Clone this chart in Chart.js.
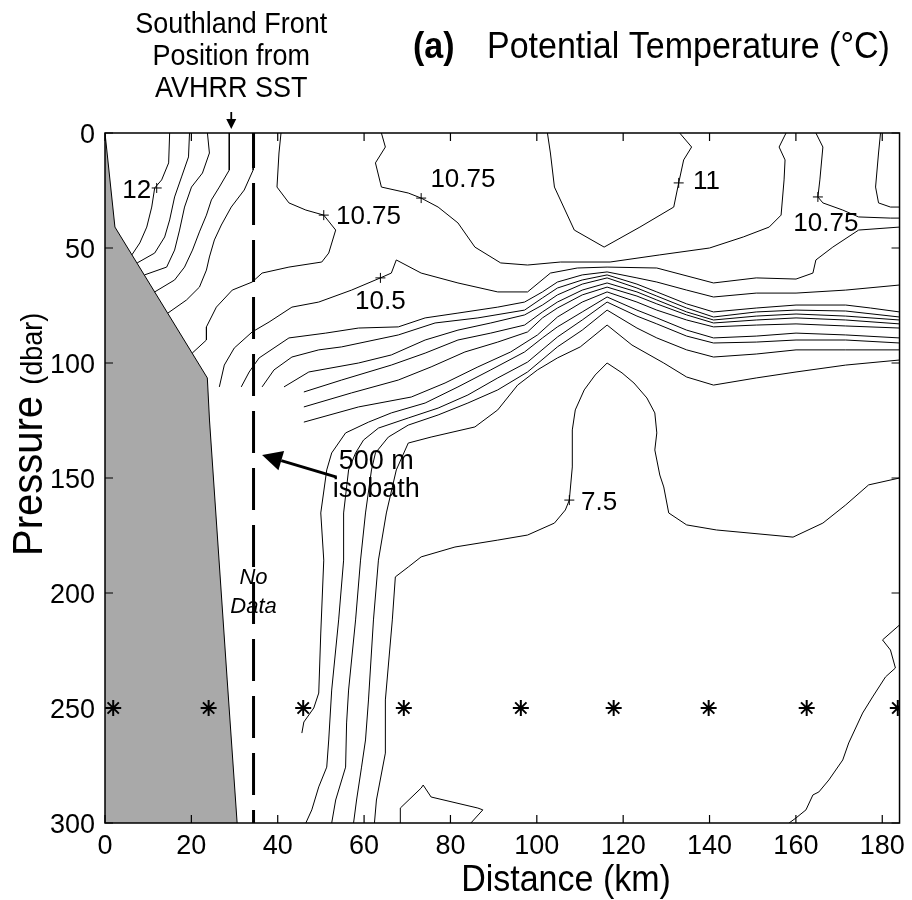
<!DOCTYPE html>
<html>
<head>
<meta charset="utf-8">
<script src="https://cdn.jsdelivr.net/npm/chart.js@4.4.1/dist/chart.umd.min.js"></script>
<style>
  html, body { margin: 0; padding: 0; background: #fff; }
</style>
</head>
<body>
<canvas id="c" width="912" height="900"></canvas>
<script>
// axes
const xTicks = [0, 20, 40, 60, 80, 100, 120, 140, 160, 180];
const yTicks = [0, 50, 100, 150, 200, 250, 300];
const xMax = 184, yMax = 300;

// shelf (land) outline, km / dbar
const land = [[0,0],[2.3,40.9],[23.7,106.5],[24.2,124.8],[28.3,237.8],[30.6,300]];
// 500 m isobath, no data line
const isobath = [[34.4,0],[34.4,300]];

// contour lines [km, dbar]
const c12 = [[14.97,0],[14.74,13.0],[13.12,20.4],[11.51,23.9],[10.82,32.2],[9.67,40.9],[8.06,47.8],[6.22,53.0]];
const f2 = [[19.57,0],[19.34,10.4],[17.73,19.1],[16.12,27.8],[14.97,37.8],[13.82,45.2],[11.51,52.2],[7.45,56.5]];
const f3 = [[23.72,0],[24.18,8.7],[22.57,17.4],[20.03,23.5],[18.42,32.2],[17.27,42.2],[16.12,50.9],[14.28,58.3],[9.15,61.7]];
const f4 = [[28.78,0],[28.78,16.1],[26.48,23.5],[24.64,29.1],[23.49,35.7],[21.87,43.0],[20.26,50.9],[18.42,58.3],[16.12,63.9],[11.5,69.1]];
const f5 = [[34.31,0],[34.31,16.1],[32.24,24.8],[29.24,32.2],[26.94,40.0],[25.33,46.5],[24.18,53.9],[23.49,59.6],[21.87,67.0],[18.88,72.6],[14.56,78.3]];
const c1075a = [[40.76,0],[40.29,8.7],[39.83,23.5],[42.6,30.4],[46.51,33.5],[50.66,35.7],[53.42,42.2],[51.81,52.2],[50.2,56.1],[42.6,58.3],[36.38,60.9],[34.08,64.8],[29.47,68.3],[25.79,75.7],[23.49,84.3],[23.49,90.0],[20.2,95.7]];
const c1075b = [[64.01,0],[64.93,6.1],[62.63,13.0],[64.01,23.5],[70.23,26.1],[73.22,28.3],[77.14,32.2],[81.74,39.1],[85.66,49.6],[91.64,56.5],[97.86,57.4],[105.46,56.1],[116.97,56.1],[128.48,53.0],[140.0,50.0],[147.82,45.2],[153.81,40.9],[156.57,35.7],[157.26,20.4],[157.49,11.7],[156.11,6.1],[157.72,0]];
const c11a = [[102.46,0],[103.15,8.7],[104.08,23.5],[108.68,42.2],[115.59,49.6],[123.88,40.9],[131.71,32.2],[132.86,21.7],[134.01,11.7],[135.85,6.1],[133.09,0]];
const c1075c = [[164.63,0],[166.25,6.1],[165.55,20.4],[165.09,27.8],[166.25,30.4],[170.85,33.5],[174.53,36.5],[181.9,37.0],[184,37.0]];
const c11b = [[179.6,0],[179.14,8.7],[178.45,23.5],[179.14,30.4],[181.9,32.2],[184,32.2]];
const c105 = [[26.48,110.4],[27.63,100.9],[29.93,93.5],[34.08,86.5],[37.99,82.2],[43.29,75.7],[49.5,73.5],[57.1,68.3],[63.78,63.0],[66.31,60.9],[67.46,55.2],[73.22,60.9],[81.74,65.2],[90.95,69.1],[97.86,69.1],[103.15,60.9],[109.37,58.7],[116.28,58.3],[127.79,58.7],[140.92,65.2],[150.82,63.0],[160.03,63.5],[163.94,60.9],[164.63,55.2],[168.55,49.6],[174.53,42.2],[184,40.9]];
const s2 = [[31.55,110.4],[33.39,103.9],[35.69,97.8],[42.6,89.1],[51.12,87.0],[58.72,84.8],[67.93,84.3],[74.14,80.4],[81.74,78.3],[90.95,75.7],[97.17,73.5],[101.31,69.1],[104.77,64.8],[110.52,61.7],[116.28,60.4],[123.19,63.0],[127.79,64.8],[134.7,68.3],[140.92,71.3],[150.82,69.6],[160.03,69.6],[171.54,68.3],[184,66.1]];
const s3 = [[36.38,110.4],[39.14,103.0],[43.29,97.4],[49.5,94.3],[54.8,93.0],[67.93,87.8],[76.44,82.6],[86.35,80.4],[97.17,77.0],[101.31,71.7],[104.77,67.4],[110.52,63.9],[116.28,61.7],[123.19,65.7],[127.79,69.1],[134.7,74.3],[140.92,77.8],[150.82,76.1],[160.03,74.8],[171.54,74.8],[177.3,76.1],[184,77.8]];
const s4 = [[41.45,110.4],[47.2,103.9],[58.72,100.0],[66.31,96.5],[74.14,90.0],[81.74,85.7],[89.34,82.6],[97.17,79.1],[101.31,74.8],[104.77,70.4],[110.52,65.7],[116.28,63.0],[123.19,67.4],[127.79,70.9],[134.7,76.1],[140.92,80.0],[150.82,77.8],[160.03,77.0],[171.54,77.4],[184,80.0]];
const s5 = [[46.05,112.6],[54.8,107.4],[66.31,100.9],[74.14,95.7],[81.74,90.0],[89.34,87.0],[97.17,83.5],[101.31,77.8],[104.77,73.5],[110.52,68.3],[116.28,65.2],[123.19,69.1],[127.79,72.6],[134.7,77.8],[140.92,81.3],[150.82,79.6],[160.03,78.7],[171.54,79.6],[184,81.3]];
const s6 = [[46.05,119.1],[57.1,113.0],[67.93,107.4],[75.52,101.7],[83.35,95.2],[90.95,90.9],[97.86,86.5],[101.31,80.4],[104.77,76.1],[110.52,70.4],[116.28,67.0],[123.19,70.9],[127.79,74.3],[134.7,79.1],[140.92,82.6],[150.82,81.3],[160.03,80.4],[171.54,81.3],[184,83.0]];
const s7 = [[46.05,125.7],[58.72,119.1],[70.92,114.8],[78.75,108.7],[86.35,101.7],[93.94,95.2],[100.16,87.8],[104.77,80.0],[110.52,73.5],[116.28,69.1],[123.19,73.5],[127.79,77.0],[134.7,81.3],[140.92,84.3],[150.82,83.5],[160.03,83.0],[171.54,83.9],[184,84.8]];
const v1 = [[45.59,260.9],[46.05,256.1],[48.35,250.0],[49.5,243.5],[49.97,217.4],[50.66,185.7],[49.97,165.2],[51.35,146.5],[52.5,139.1],[55.72,130.4],[61.02,125.7],[66.31,121.7],[74.14,117.4],[81.74,110.4],[89.34,103.0],[97.17,95.2],[101.31,89.1],[104.77,84.3],[110.52,77.8],[116.28,71.3],[123.19,77.0],[127.79,80.4],[134.7,85.7],[140.92,89.1],[150.82,88.3],[160.03,87.0],[171.54,87.8],[184,89.1]];
const v2 = [[46.51,300],[47.89,294.3],[49.5,284.3],[51.35,275.7],[51.81,263.9],[52.5,242.2],[54.11,211.7],[55.26,185.7],[55.26,165.2],[56.41,146.5],[58.03,139.1],[59.87,133.5],[63.32,128.3],[70.23,123.9],[77.14,119.6],[84.04,113.9],[90.95,106.5],[97.86,99.6],[104.77,88.7],[110.52,81.3],[116.28,73.5],[123.19,79.6],[127.79,83.0],[134.7,88.3],[140.92,91.3],[150.82,90.9],[160.03,90.0],[171.54,90.0],[184,91.3]];
const v3 = [[52.5,300],[53.42,290],[55.72,275.7],[55.95,256.5],[56.41,242.2],[58.03,211.7],[59.18,185.7],[60.33,165.2],[61.71,146.5],[62.63,139.1],[65.62,132.2],[70.23,127.0],[77.14,122.6],[84.04,117.4],[90.95,111.7],[97.86,103.9],[104.77,93.0],[110.52,85.7],[116.28,77.0],[123.19,84.8],[127.79,89.1],[134.7,94.3],[140.92,97.4],[150.82,96.1],[160.03,94.3],[171.54,94.3],[184,94.3]];
const v4 = [[57.56,300],[58.26,290],[59.41,275.7],[60.33,263.9],[61.02,246.5],[62.17,211.7],[63.32,185.7],[65.16,165.2],[67.46,146.5],[70.23,134.8],[75.52,132.2],[85.66,127.8],[90.95,120.4],[95.56,109.6],[100.16,103.0],[104.77,97.8],[110.06,93.0],[116.28,83.5],[122.04,92.2],[129.4,100],[134.7,106.1],[140.92,109.6],[150.82,106.5],[160.03,103.9],[171.54,100.9],[184,98.7]];
const c75 = [[62.4,300],[62.86,290],[64.93,269.6],[64.93,246.5],[66.54,211.7],[67.24,193.0],[70.23,188.7],[73.22,184.3],[81.05,180.0],[90.95,177.0],[97.86,174.8],[104.08,169.6],[106.61,163.9],[107.53,159.6],[108.22,145.2],[108.22,129.1],[108.91,120.4],[110.98,111.7],[113.52,105.2],[116.28,100],[119.73,104.3],[122.5,108.7],[125.49,115.2],[127.33,121.7],[127.79,130.4],[127.33,137.8],[128.48,148.7],[129.4,153.9],[130.55,165.2],[134.7,170.4],[141.61,172.6],[159.34,175.7],[166.25,169.6],[171.54,161.7],[176.84,153.0],[184,150.0]];
const bump = [[68.39,300],[68.39,293.5],[73.22,284.8],[73.68,283.5],[75.52,288.7],[86.35,293.5],[87.5,294.3],[84.73,300]];
const lowRight = [[158.42,300],[160.03,297.8],[162.33,294.3],[163.94,287.8],[165.32,286.5],[167.63,281.3],[170.85,272.6],[172.23,265.2],[175.45,252.2],[177.76,245.2],[180.75,236.5],[183.05,232.6],[181.9,224.8],[180.06,220.4],[184,213.9]];

// CTD stations
const stationX = [1.9, 24.0, 45.9, 69.2, 96.3, 117.8, 139.8, 162.5, 183.6];
const stationP = 250;

// contour label marks (+) and labels
const markX = [11.97, 50.66, 73.22, 132.86, 165.09, 63.78, 107.53];
const markP = [23.9, 35.7, 28.3, 21.7, 27.8, 63.0, 159.6];
const labelText = ['12', '10.75', '10.75', '11', '10.75', '10.5', '7.5'];
const labelX = [7.37, 61.02, 82.89, 139.3, 166.94, 63.78, 114.44];
const labelP = [25.2, 36.5, 20.4, 21.3, 39.6, 73.5, 160.9];

// annotations
const frontText = ['Southland Front', 'Position from', 'AVHRR SST'];
const frontX = 29.24;
const noDataText = ['No', 'Data'];
const noDataX = 34.4, noDataP = [193.5, 206.1];
const isoText = ['500 m', 'isobath'];
const isoTextX = 62.8, isoTextP = [143.0, 155.2];
const isoArrow = [[53.65, 149.6], [36.38, 140.0]];

const FONT = '"Liberation Sans", Arial, Helvetica, sans-serif';
Chart.defaults.font.family = FONT;
Chart.defaults.color = '#000';

const cv = document.getElementById('c');

const line = (pts, extra) => Object.assign({
    data: pts.map(p => ({x: p[0], y: p[1]})),
    showLine: true, borderColor: '#000', borderWidth: 1, pointRadius: 0,
    fill: false, tension: 0, order: 5
}, extra || {});

const contours = [c12, f2, f3, f4, f5, c1075a, c1075b, c11a, c1075c, c11b, c105,
    s2, s3, s4, s5, s6, s7, v1, v2, v3, v4, c75, bump, lowRight];

const datasets = [
    line(land, {fill: {value: 300}, backgroundColor: '#a9a9a9', order: 10}),
    ...contours.map(c => line(c)),
    line(isobath, {borderWidth: 3, borderDash: [42, 15], borderDashOffset: 7, order: 3}),
    {data: stationX.map(v => ({x: v, y: stationP})), pointStyle: 'star', pointRadius: 8,
        borderColor: '#000', borderWidth: 2, showLine: false, order: 1},
    {data: markX.map((v, i) => ({x: v, y: markP[i]})), pointStyle: 'cross', pointRadius: 5,
        borderColor: '#000', borderWidth: 1, showLine: false, order: 1}
];

function arrow(ctx, x0, y0, x1, y1, head, half, width) {
    const a = Math.atan2(y1 - y0, x1 - x0);
    const bx = x1 - head * Math.cos(a), by = y1 - head * Math.sin(a);
    ctx.lineWidth = width;
    ctx.beginPath(); ctx.moveTo(x0, y0); ctx.lineTo(bx, by); ctx.stroke();
    ctx.beginPath(); ctx.moveTo(x1, y1);
    ctx.lineTo(bx + half * Math.sin(a), by - half * Math.cos(a));
    ctx.lineTo(bx - half * Math.sin(a), by + half * Math.cos(a));
    ctx.closePath(); ctx.fill();
}

// text taller than Arial, like the original Helvetica print
function tallText(ctx, t, x, y, sy) {
    ctx.save();
    ctx.translate(x, y);
    ctx.scale(1, sy);
    ctx.fillText(t, 0, 0);
    ctx.restore();
}

const decor = {
    id: 'decor',
    afterDraw(chart) {
        const {ctx, chartArea: a, scales: {x, y}} = chart;
        ctx.save();
        ctx.strokeStyle = '#000'; ctx.fillStyle = '#000';

        // box and inward ticks
        ctx.lineWidth = 1.5;
        ctx.strokeRect(a.left, a.top, a.right - a.left, a.bottom - a.top);
        ctx.lineWidth = 1.2;
        ctx.beginPath();
        xTicks.forEach(v => {
            const px = x.getPixelForValue(v);
            ctx.moveTo(px, a.bottom); ctx.lineTo(px, a.bottom - 8);
            ctx.moveTo(px, a.top); ctx.lineTo(px, a.top + 8);
        });
        yTicks.forEach(v => {
            const py = y.getPixelForValue(v);
            ctx.moveTo(a.left, py); ctx.lineTo(a.left + 8, py);
            ctx.moveTo(a.right, py); ctx.lineTo(a.right - 8, py);
        });
        ctx.stroke();

        // contour labels
        ctx.font = '26px ' + FONT;
        ctx.textAlign = 'center'; ctx.textBaseline = 'middle';
        labelText.forEach((t, i) => ctx.fillText(t, x.getPixelForValue(labelX[i]), y.getPixelForValue(labelP[i])));

        // No Data
        ctx.font = 'italic 22px ' + FONT;
        noDataText.forEach((t, i) => ctx.fillText(t, x.getPixelForValue(noDataX), y.getPixelForValue(noDataP[i])));

        // 500 m isobath + arrow
        ctx.font = '27px ' + FONT;
        isoText.forEach((t, i) => ctx.fillText(t, x.getPixelForValue(isoTextX), y.getPixelForValue(isoTextP[i])));
        arrow(ctx, x.getPixelForValue(isoArrow[0][0]), y.getPixelForValue(isoArrow[0][1]),
            x.getPixelForValue(isoArrow[1][0]), y.getPixelForValue(isoArrow[1][1]), 20, 10, 3);

        // front annotation above the plot
        const fx = x.getPixelForValue(frontX);
        ctx.font = '27px ' + FONT;
        ctx.textBaseline = 'alphabetic';
        frontText.forEach((t, i) => tallText(ctx, t, fx, 33 + i * 32, 1.06));
        arrow(ctx, fx, a.top - 21, fx, a.top - 4, 10, 5, 1.8);

        // title
        ctx.textAlign = 'left';
        ctx.font = 'bold 34px ' + FONT;
        tallText(ctx, '(a)', 413, 58, 1.1);
        ctx.font = '34px ' + FONT;
        tallText(ctx, 'Potential Temperature (\u00B0C)', 487, 58, 1.1);

        // x title
        ctx.textAlign = 'center';
        tallText(ctx, 'Distance (km)', 566, 891, 1.08);

        // y title
        ctx.save();
        ctx.translate(42, 556);
        ctx.rotate(-Math.PI / 2);
        ctx.scale(1, 1.08);
        ctx.textAlign = 'left';
        ctx.font = '40px ' + FONT;
        ctx.fillText('Pressure', 0, 0);
        const w = ctx.measureText('Pressure ').width;
        ctx.font = '27px ' + FONT;
        ctx.fillText('(dbar)', w, 0);
        ctx.restore();

        ctx.restore();
    }
};

new Chart(cv, {
    type: 'scatter',
    data: {datasets},
    options: {
        responsive: false,
        animation: false,
        devicePixelRatio: 1,
        events: [],
        layout: {padding: {top: 133, right: 8, left: 0, bottom: 0}},
        plugins: {legend: {display: false}, tooltip: {enabled: false}},
        scales: {
            x: {
                type: 'linear', min: 0, max: xMax,
                afterBuildTicks: s => { s.ticks = xTicks.map(v => ({value: v})); },
                afterFit: s => { s.height = 77; },
                grid: {display: false, drawTicks: false},
                border: {display: false},
                ticks: {font: {size: 27}, color: '#000', padding: 7, autoSkip: false, maxRotation: 0}
            },
            y: {
                type: 'linear', min: 0, max: yMax, reverse: true,
                afterBuildTicks: s => { s.ticks = yTicks.map(v => ({value: v})); },
                afterFit: s => { s.width = 105; },
                grid: {display: false, drawTicks: false},
                border: {display: false},
                ticks: {font: {size: 27}, color: '#000', padding: 10, labelOffset: 3, autoSkip: false}
            }
        }
    },
    plugins: [decor]
});
</script>
</body>
</html>
